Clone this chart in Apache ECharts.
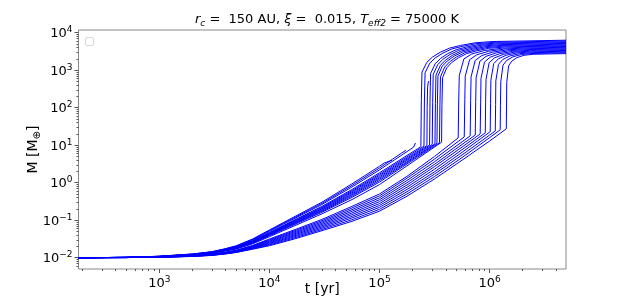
<!DOCTYPE html>
<html><head><meta charset="utf-8">
<script src="https://cdn.jsdelivr.net/npm/echarts@6/dist/echarts.min.js"></script>
<style>html,body{margin:0;padding:0;background:#fff;overflow:hidden}#c{width:622px;height:303px}</style>
</head><body><div id="c"></div>
<script>
// shared early time grid [yr]
const timeGrid = [184, 500, 1000, 2000, 3000, 4000, 5000, 7000, 1e4, 1.33e4, 1.78e4, 3e4, 5.62e4, 1e5];

// upper family (early growth): masses on timeGrid [M_earth]
const massUpper = [
  [0.01, 0.0102, 0.0110, 0.0126, 0.0145, 0.0175, 0.0209, 0.0314, 0.0550, 0.0857, 0.135, 0.302, 0.933, 2.75],
  [0.01, 0.0102, 0.0109, 0.0125, 0.0143, 0.01726, 0.0205, 0.0305, 0.0527, 0.0817, 0.127, 0.281, 0.847, 2.46],
  [0.01, 0.0102, 0.0109, 0.0124, 0.0142, 0.0170, 0.0200, 0.0296, 0.0506, 0.0776, 0.120, 0.262, 0.769, 2.20],
  [0.01, 0.0102, 0.0108, 0.0123, 0.0140, 0.0166, 0.0194, 0.0282, 0.0473, 0.0718, 0.110, 0.233, 0.659, 1.84],
  [0.01, 0.0102, 0.0108, 0.0122, 0.0139, 0.0164, 0.0191, 0.0276, 0.0460, 0.0693, 0.105, 0.222, 0.615, 1.69],
  [0.01, 0.0102, 0.0108, 0.0122, 0.0138, 0.01626, 0.0188, 0.0270, 0.0447, 0.0670, 0.101, 0.211, 0.575, 1.57],
  [0.01, 0.0102, 0.0107, 0.0121, 0.0137, 0.0161, 0.0186, 0.0265, 0.0434, 0.0647, 0.097, 0.201, 0.538, 1.45],
  [0.01, 0.0102, 0.0107, 0.0121, 0.0136, 0.0159, 0.0183, 0.0259, 0.0422, 0.0625, 0.0933, 0.191, 0.502, 1.34],
  [0.01, 0.0102, 0.0107, 0.0120, 0.0136, 0.01578, 0.0180, 0.0254, 0.0409, 0.0604, 0.0895, 0.182, 0.470, 1.24],
  [0.01, 0.0102, 0.0107, 0.0119, 0.0135, 0.0156, 0.0178, 0.0249, 0.0398, 0.0583, 0.0861, 0.173, 0.439, 1.14],
  [0.01, 0.0102, 0.0106, 0.0119, 0.0134, 0.01542, 0.0175, 0.0243, 0.0385, 0.0561, 0.0822, 0.163, 0.406, 1.04],
  [0.01, 0.0102, 0.0106, 0.0117, 0.0132, 0.0151, 0.0170, 0.0233, 0.0363, 0.0524, 0.0759, 0.148, 0.355, 0.891]
];
// upper family: later points [t, M]
const tailUpper = [
  [[1.109e5, 3.37], [1.297e5, 3.94]],
  [[1.318e5, 4.27], [1.585e5, 6.17], [1.738e5, 7.31]],
  [[1.778e5, 6.76], [2.042e5, 8.91], [2.113e5, 10.0], [2.123e5, 11.5]],
  [[1.778e5, 5.33], [2.377e5, 9.12], [2.399e5, 158.5], [2.432e5, 891], [2.692e5, 1622], [3.027e5, 2239], [3.573e5, 3020], [4.345e5, 3890], [5.445e5, 4571], [7.362e5, 5370], [1.072e6, 5821], [4.95e6, 6310]],
  [[1.778e5, 4.90], [2.535e5, 9.44], [2.559e5, 151], [2.594e5, 849], [2.864e5, 1545], [3.214e5, 2133], [3.776e5, 2877], [4.571e5, 3707], [5.715e5, 4355], [7.674e5, 5117], [1.109e6, 5546], [4.95e6, 6012]],
  [[1.778e5, 4.52], [2.698e5, 9.77], [2.710e5, 100], [2.735e5, 355], [2.786e5, 513]],
  [[1.778e5, 4.22], [2.851e5, 10.1], [2.877e5, 143.9], [2.911e5, 809], [3.199e5, 1472], [3.565e5, 2032], [4.150e5, 2742], [4.977e5, 3532], [6.138e5, 4150], [8.110e5, 4875], [1.148e6, 5284], [4.95e6, 5728]],
  [[1.778e5, 3.94], [3.013e5, 10.47], [3.041e5, 137.1], [3.076e5, 771], [3.381e5, 1403], [3.750e5, 1936], [4.365e5, 2612], [5.212e5, 3365], [6.412e5, 3954], [8.433e5, 4645], [1.189e6, 5035], [4.95e6, 5458]],
  [[1.778e5, 3.63], [3.192e5, 10.84], [3.221e5, 130.6], [3.258e5, 735], [3.573e5, 1337], [3.963e5, 1845], [4.592e5, 2489], [5.47e5, 3206], [6.699e5, 3767], [8.79e5, 4426], [1.230e6, 4797], [4.95e6, 5200]],
  [[1.778e5, 3.41], [3.327e5, 11.22], [3.357e5, 124.5], [3.396e5, 700], [3.715e5, 1274], [4.121e5, 1758], [4.775e5, 2371], [5.689e5, 3055], [6.966e5, 3589], [9.099e5, 4217], [1.274e6, 4571], [4.95e6, 4955]],
  [[1.778e5, 3.16], [3.508e5, 11.61], [3.540e5, 118.6], [3.581e5, 667], [3.917e5, 1213], [4.335e5, 1675], [5.012e5, 2259], [5.957e5, 2911], [7.261e5, 3420], [9.462e5, 4018], [1.318e6, 4355], [4.95e6, 4721]],
  [[1.778e5, 2.82], [3.664e5, 12.02], [3.690e5, 113], [3.741e5, 635], [4.083e5, 1156], [4.519e5, 1596], [5.224e5, 2153], [6.194e5, 2773], [7.551e5, 3258], [9.817e5, 3828], [1.365e6, 4150], [4.95e6, 4498]]
];

// lower family (late growth): masses on timeGrid
const massLower = [
  [0.01, 0.0101, 0.0105, 0.0114, 0.0126, 0.0141, 0.0159, 0.0212, 0.0316, 0.0430, 0.0589, 0.105, 0.234, 0.501],
  [0.01, 0.0101, 0.0105, 0.0113, 0.0125, 0.01393, 0.0156, 0.0207, 0.0302, 0.0407, 0.0552, 0.097, 0.212, 0.446],
  [0.01, 0.0101, 0.0104, 0.0112, 0.0123, 0.01374, 0.0154, 0.0201, 0.0288, 0.0386, 0.0518, 0.0897, 0.191, 0.396],
  [0.01, 0.0101, 0.0104, 0.0112, 0.0122, 0.01358, 0.0151, 0.0196, 0.0275, 0.0365, 0.0486, 0.0832, 0.173, 0.352],
  [0.01, 0.0101, 0.0104, 0.0111, 0.0121, 0.0134, 0.0149, 0.0191, 0.0263, 0.0346, 0.0456, 0.0771, 0.156, 0.313],
  [0.01, 0.0101, 0.0103, 0.0111, 0.0120, 0.01324, 0.0147, 0.0186, 0.0251, 0.0327, 0.0428, 0.0713, 0.141, 0.278],
  [0.01, 0.0101, 0.0103, 0.0110, 0.0118, 0.01306, 0.0145, 0.01816, 0.0240, 0.0310, 0.0401, 0.0661, 0.127, 0.247],
  [0.01, 0.0101, 0.0103, 0.0109, 0.0117, 0.01291, 0.0142, 0.01766, 0.0229, 0.0293, 0.0377, 0.0612, 0.115, 0.220],
  [0.01, 0.0101, 0.0103, 0.0109, 0.0116, 0.01274, 0.0140, 0.01722, 0.0219, 0.0277, 0.0353, 0.0566, 0.103, 0.195],
  [0.01, 0.0101, 0.0102, 0.0108, 0.0115, 0.0126, 0.0138, 0.0168, 0.0209, 0.0262, 0.0331, 0.0525, 0.0933, 0.174]
];
const tailLower = [
  [[1.778e5, 1.479], [3.162e5, 5.01], [5.188e5, 15.67], [5.248e5, 170.6], [5.309e5, 727.8], [5.848e5, 2004], [6.887e5, 2704], [9.016e5, 3350], [1.303e6, 3864], [2.138e6, 4111], [4.95e6, 4285]],
  [[1.778e5, 1.318], [3.162e5, 4.27], [5.888e5, 16.6], [5.957e5, 162.6], [6.012e5, 693.4], [6.592e5, 1910], [7.656e5, 2576], [9.817e5, 3192], [1.384e6, 3681], [2.188e6, 3917], [4.95e6, 4083]],
  [[1.778e5, 1.148], [3.162e5, 3.63], [5.623e5, 12.3], [6.668e5, 17.78], [6.730e5, 154.9], [6.792e5, 660.7], [7.396e5, 1820], [8.492e5, 2455], [1.069e6, 3041], [1.466e6, 3508], [2.239e6, 3733], [4.95e6, 3890]],
  [[1.778e5, 1.0], [3.162e5, 3.09], [5.623e5, 10.47], [7.413e5, 18.62], [7.482e5, 147.6], [7.551e5, 629.5], [8.166e5, 1734], [9.290e5, 2339], [1.151e6, 2897], [1.545e6, 3342], [2.291e6, 3556], [4.95e6, 3707]],
  [[1.778e5, 0.871], [3.162e5, 2.69], [5.623e5, 8.91], [8.222e5, 19.95], [8.299e5, 140.6], [8.356e5, 599.8], [8.995e5, 1652], [1.014e6, 2228], [1.239e6, 2761], [1.626e6, 3184], [2.344e6, 3388], [4.95e6, 3532]],
  [[1.778e5, 0.759], [3.162e5, 2.29], [5.623e5, 7.59], [9.141e5, 21.38], [9.204e5, 134], [9.290e5, 571.5], [9.908e5, 1574], [1.107e6, 2123], [1.327e6, 2630], [1.698e6, 3034], [2.371e6, 3228], [4.95e6, 3365]],
  [[1.778e5, 0.661], [3.162e5, 1.95], [5.623e5, 6.46], [1.014e6, 22.91], [1.021e6, 127.6], [1.028e6, 544.5], [1.091e6, 1500], [1.205e6, 2023], [1.419e6, 2506], [1.774e6, 2891], [2.399e6, 3076], [4.95e6, 3206]],
  [[1.778e5, 0.575], [3.162e5, 1.70], [5.623e5, 5.50], [1e6, 18.6], [1.127e6, 23.99], [1.135e6, 121.6], [1.140e6, 518.8], [1.205e6, 1429], [1.318e6, 1928], [1.528e6, 2388], [1.871e6, 2754], [2.455e6, 2931], [4.95e6, 3055]],
  [[1.778e5, 0.501], [3.162e5, 1.462], [5.623e5, 4.68], [1e6, 15.85], [1.250e6, 25.7], [1.256e6, 115.9], [1.265e6, 494.3], [1.324e6, 1361], [1.435e6, 1837], [1.633e6, 2275], [1.954e6, 2624], [2.483e6, 2793], [4.95e6, 2911]],
  [[1.778e5, 0.437], [3.162e5, 1.259], [5.623e5, 3.98], [1e6, 12.9], [1.419e6, 27.29], [1.426e6, 110.4], [1.432e6, 471], [1.489e6, 1297], [1.592e6, 1750], [1.774e6, 2168], [2.056e6, 2500], [2.512e6, 2661], [4.95e6, 2773]]
];

// axes
const xRange = [184, 4.95e6];
const yRange = [0.0050, 11800];
const xMajorTicks = [1e3, 1e4, 1e5, 1e6];
const yMajorTicks = [1e-2, 1e-1, 1, 10, 100, 1e3, 1e4];
const xTickExp = ['3', '4', '5', '6'];
const yTickExp = ['\u22122', '\u22121', '0', '1', '2', '3', '4'];
const minorMult = [2, 3, 4, 5, 6, 7, 8, 9];

function minorTicks(lo, hi, e0, e1) {
  const out = [];
  for (let e = e0; e <= e1; e++) for (const m of minorMult) {
    const v = m * Math.pow(10, e);
    if (v > lo && v < hi) out.push(v);
  }
  return out;
}
const xMinor = minorTicks(xRange[0], xRange[1], 2, 6);
const yMinor = minorTicks(yRange[0], yRange[1], -3, 3);

const LINE = '#0000ff';
const AXC = '#555';
const FONT = 'DejaVu Sans';

const series = [];
massUpper.forEach((row, i) => {
  series.push({ type: 'line', xAxisIndex: 0, yAxisIndex: 0,
    data: timeGrid.map((t, j) => [t, row[j]]).concat(tailUpper[i]) });
});
massLower.forEach((row, i) => {
  series.push({ type: 'line', xAxisIndex: 0, yAxisIndex: 0,
    data: timeGrid.map((t, j) => [t, row[j]]).concat(tailLower[i]) });
});
series.forEach(s => {
  s.showSymbol = false; s.symbol = 'none'; s.silent = true; s.animation = false;
  s.lineStyle = { color: LINE, width: 1 }; s.itemStyle = { color: LINE };
});

const labelRich = {
  b: { fontFamily: FONT, fontSize: 13, color: '#000', lineHeight: 15, padding: [5, 0, 0, 0], verticalAlign: 'bottom' },
  s: { fontFamily: FONT, fontSize: 9, color: '#000', lineHeight: 10, verticalAlign: 'top' }
};
function fmt(values, exps) {
  return v => {
    let k = 0, best = Infinity;
    values.forEach((t, i) => { const d = Math.abs(Math.log10(v) - Math.log10(t)); if (d < best) { best = d; k = i; } });
    return best < 0.01 ? '{b|10}{s|' + exps[k] + '}' : '';
  };
}

const option = {
  animation: false,
  backgroundColor: '#fff',
  title: {
    text: '{i|r}{sub|c}{n| =  150 AU, }{i|\u03be}{n| =  0.015, }{i|T}{sub|eff2}{n| = 75000 K}',
    left: 322, top: 8, textAlign: 'center',
    textStyle: {
      fontWeight: 'normal',
      rich: {
        n: { fontFamily: FONT, fontSize: 13, fontWeight: 'normal', color: '#000', lineHeight: 15, verticalAlign: 'top' },
        i: { fontFamily: FONT, fontSize: 13, fontWeight: 'normal', fontStyle: 'italic', color: '#000', lineHeight: 15, verticalAlign: 'top' },
        sub: { fontFamily: FONT, fontSize: 9, fontWeight: 'normal', fontStyle: 'italic', color: '#000', lineHeight: 10, padding: [7, 0, 0, 0], verticalAlign: 'bottom' }
      }
    }
  },
  grid: { show: true, borderColor: '#888', borderWidth: 1, backgroundColor: 'transparent',
          left: 78.5, top: 30, right: 56, bottom: 34, containLabel: false, outerBoundsMode: 'none' },
  xAxis: [
    { type: 'log', logBase: 10, min: xRange[0], max: xRange[1],
      axisLine: { show: false }, splitLine: { show: false },
      axisTick: { show: true, customValues: xMajorTicks, length: 4, lineStyle: { color: AXC, width: 1 } },
      axisLabel: { show: true, customValues: xMajorTicks, margin: 6, formatter: fmt(xMajorTicks, xTickExp), rich: labelRich },
      name: 't [yr]', nameLocation: 'middle', nameGap: 13, nameMoveOverlap: false,
      nameTextStyle: { fontFamily: FONT, fontSize: 14, color: '#000' } },
    { type: 'log', logBase: 10, min: xRange[0], max: xRange[1], position: 'bottom',
      axisLine: { show: false }, splitLine: { show: false }, axisLabel: { show: false },
      axisTick: { show: true, customValues: xMinor, length: 2, lineStyle: { color: AXC, width: 1 } } }
  ],
  yAxis: [
    { type: 'log', logBase: 10, min: yRange[0], max: yRange[1],
      axisLine: { show: false }, splitLine: { show: false },
      axisTick: { show: true, customValues: yMajorTicks, length: 4, lineStyle: { color: AXC, width: 1 } },
      axisLabel: { show: true, customValues: yMajorTicks, margin: 6, formatter: fmt(yMajorTicks, yTickExp), rich: labelRich },
      name: '{n|M [M}{sub|\u2295}{n|]}', nameLocation: 'middle', nameGap: 36, nameRotate: 90, nameMoveOverlap: false,
      nameTextStyle: { rich: {
        n: { fontFamily: FONT, fontSize: 14, color: '#000', lineHeight: 16, verticalAlign: 'top' },
        sub: { fontFamily: FONT, fontSize: 10, color: '#000', lineHeight: 11, padding: [7, 0, 0, 0], verticalAlign: 'bottom' }
      } } },
    { type: 'log', logBase: 10, min: yRange[0], max: yRange[1], position: 'left',
      axisLine: { show: false }, splitLine: { show: false }, axisLabel: { show: false },
      axisTick: { show: true, customValues: yMinor, length: 2, lineStyle: { color: AXC, width: 1 } } }
  ],
  graphic: [
    { type: 'rect', left: 85, top: 37, shape: { width: 8, height: 8, r: 1.5 },
      style: { fill: '#fff', stroke: '#d8d8d8', lineWidth: 1 }, z: 100 }
  ],
  series: series
};

const chart = echarts.init(document.getElementById('c'), null, { renderer: 'canvas' });
chart.setOption(option);
</script>
</body></html>
